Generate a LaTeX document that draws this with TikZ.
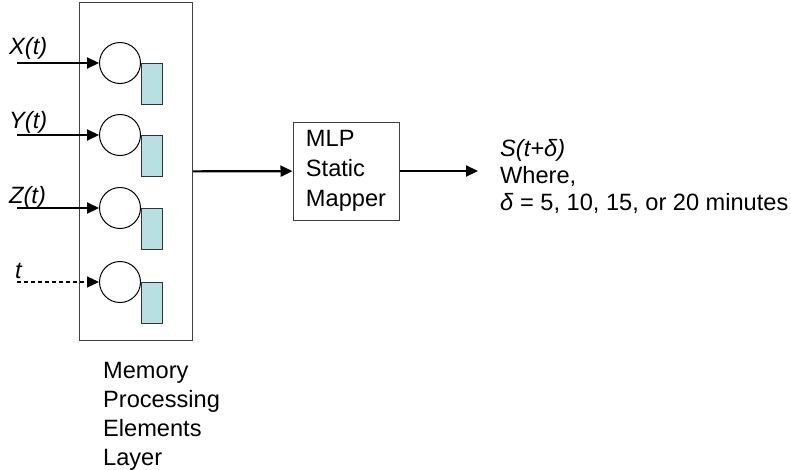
\documentclass[tikz,border=0pt]{standalone}
\usepackage{fontspec}
\setmainfont{Liberation Sans}
\usetikzlibrary{arrows.meta}
\definecolor{memfill}{RGB}{184,224,226}
\newcommand{\bigfont}[1]{\fontsize{23.6}{#1}\selectfont}

\begin{document}
\begin{tikzpicture}[
      x=1pt,y=-1pt,
      every node/.style={inner sep=0pt,font=\bigfont{28}},
      arr/.style={line width=2.2pt,-{Triangle[length=12pt,width=11pt]}},
      unit/.style={circle,draw,line width=1pt,minimum size=41pt},
      mem/.style={draw=black!80,fill=memfill,line width=1pt,minimum width=21pt,minimum height=41pt,anchor=north west},
      lab/.style={font=\bigfont{28}\itshape,anchor=base west}
    ]
      \useasboundingbox (0,0) rectangle (791,469);
      % memory layer
      \node (layer) [draw=black!75,line width=1pt,minimum width=113pt,minimum height=338pt,anchor=north west] at (79,2) {};
      \node (ux) [unit] at (120,63) {};
      \node (uy) [unit] at (120,135) {};
      \node (uz) [unit] at (120,208) {};
      \node (ut) [unit] at (120,282) {};
      \node (mx) [mem] at (ux.east) {};
      \node (my) [mem] at (uy.east) {};
      \node (mz) [mem] at (uz.east) {};
      \node (mt) [mem] at (ut.east) {};
      % inputs
      \node (lx) [lab] at (9,54) {X(t)};
      \node (ly) [lab] at (9,128) {Y(t)};
      \node (lz) [lab] at (9,203) {Z(t)};
      \node (lt) [lab] at (15,278) {t};
      \coordinate (inx) at (17,63);
      \coordinate (iny) at (17,135);
      \coordinate (inz) at (17,208);
      \coordinate (int) at (17,282);
      \draw[arr] (inx) -- (ux);
      \draw[arr] (iny) -- (uy);
      \draw[arr] (inz) -- (uz);
      \draw[arr,line width=1.3pt,dash pattern=on 4pt off 3pt] (int) -- (ut);
      % mapper
      \node (mlp) [draw=black!75,line width=1pt,minimum width=106pt,minimum height=98pt,align=left,font=\bigfont{30}] at (346,171) {MLP\\Static\\Mapper};
      \draw[arr] (layer) -- (mlp);
      \coordinate (outend) at (478,171);
      \draw[arr] (mlp) -- (outend);
      \node (out) [align=left,anchor=north west,font=\bigfont{27}] at (500,139) {\textit{S(t+δ)}\\Where,\\\textit{δ} = 5, 10, 15, or 20 minutes};
      \node (caption) [align=left,anchor=north west,font=\bigfont{29}] at (103,362) {Memory\\Processing\\Elements\\Layer};
    \end{tikzpicture}
\end{document}
